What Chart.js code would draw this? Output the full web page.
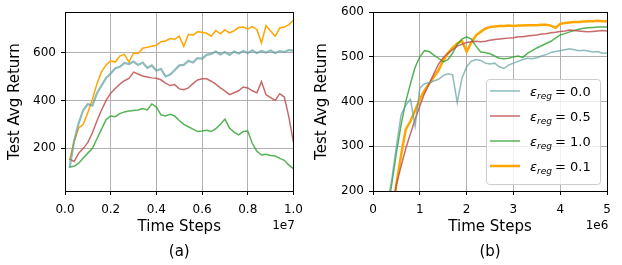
<!DOCTYPE html>
<html>
<head>
<meta charset="utf-8">
<script src="https://cdn.jsdelivr.net/npm/chart.js@4.4.0/dist/chart.umd.min.js"></script>
<style>
  html, body { margin: 0; padding: 0; background: #fff; }
  #wrap { position: relative; width: 622px; height: 265px; }
  canvas { position: absolute; top: 0; }
  #left { left: 0; }
  #right { left: 311px; }
</style>
</head>
<body>
<div id="wrap">
  <canvas id="left" width="311" height="265"></canvas>
  <canvas id="right" width="311" height="265"></canvas>
</div>
<script>
// ---- panel (a): x in units of 1e7 time steps ----
const stepsA = [0.02, 0.04, 0.06, 0.08, 0.10, 0.12, 0.14, 0.16, 0.18, 0.20,
  0.22, 0.24, 0.26, 0.28, 0.30, 0.32, 0.34, 0.36, 0.38, 0.40,
  0.42, 0.44, 0.46, 0.48, 0.50, 0.52, 0.54, 0.56, 0.58, 0.60,
  0.62, 0.64, 0.66, 0.68, 0.70, 0.72, 0.74, 0.76, 0.78, 0.80,
  0.82, 0.84, 0.86, 0.88, 0.90, 0.92, 0.94, 0.96, 0.98, 1.00];
const tealA = [118, 230, 305, 360, 385, 378, 430, 462, 494, 512,
  534, 540, 556, 552, 562, 548, 558, 536, 546, 524,
  532, 500, 508, 526, 546, 548, 565, 558, 576, 574,
  590, 594, 604, 592, 602, 590, 604, 596, 606, 598,
  608, 598, 606, 600, 608, 598, 606, 602, 610, 608];
const redA = [155, 145, 180, 200, 225, 265, 315, 360, 400, 430,
  450, 468, 482, 492, 518, 510, 502, 498, 494, 492,
  486, 472, 462, 466, 448, 445, 452, 470, 485, 490,
  490, 480, 468, 452, 440, 424, 432, 440, 456, 452,
  440, 432, 478, 424, 412, 400, 428, 414, 330, 225];
const greenA = [122, 125, 138, 160, 180, 200, 240, 280, 320, 335,
  332, 345, 352, 356, 358, 360, 366, 360, 385, 372,
  340, 335, 342, 335, 316, 300, 290, 280, 270, 272,
  275, 270, 282, 300, 322, 285, 268, 256, 270, 272,
  220, 188, 172, 175, 170, 168, 158, 150, 130, 115];
const orangeA = [150, 230, 285, 300, 350, 405, 470, 520, 548, 565,
  560, 585, 592, 560, 598, 596, 618, 622, 626, 630,
  645, 648, 658, 655, 668, 625, 676, 672, 686, 684,
  680, 668, 692, 678, 694, 682, 690, 704, 706, 698,
  708, 696, 640, 712, 690, 668, 702, 706, 716, 735];

// ---- panel (b): x in units of 1e6 time steps ----
const stepsB = [0.0, 0.1, 0.2, 0.3, 0.4, 0.5, 0.6, 0.7, 0.8, 0.9,
  1.0, 1.1, 1.2, 1.3, 1.4, 1.5, 1.6, 1.7, 1.8, 1.9,
  2.0, 2.1, 2.2, 2.3, 2.4, 2.5, 2.6, 2.7, 2.8, 2.9,
  3.0, 3.1, 3.2, 3.3, 3.4, 3.5, 3.6, 3.7, 3.8, 3.9,
  4.0, 4.1, 4.2, 4.3, 4.4, 4.5, 4.6, 4.7, 4.8, 4.9, 5.0];
const tealB = [null, null, null, 170, 225, 300, 370, 392, 405, 345,
  430, 440, 442, 446, 450, 458, 462, 460, 398, 452,
  478, 490, 494, 492, 486, 484, 486, 478, 474, 482,
  486, 490, 494, 497, 496, 498, 502, 505, 510, 512,
  514, 516, 518, 516, 514, 515, 513, 511, 512, 508, 509];
const redB = [null, null, null, null, 150, 215, 255, 295, 328, 360,
  390, 418, 440, 462, 484, 498, 508, 516, 524, 528,
  532, 534, 535, 534, 535, 537, 539, 540, 541, 542,
  543, 545, 545, 547, 548, 549, 551, 552, 554, 555,
  557, 558, 560, 559, 558, 557, 556, 557, 558, 559, 558];
const greenB = [null, null, null, 150, 215, 285, 348, 400, 440, 477,
  500, 514, 512, 504, 497, 489, 494, 508, 528, 540,
  545, 540, 524, 511, 510, 507, 502, 497, 496, 497,
  500, 502, 499, 508, 514, 520, 525, 530, 535, 542,
  549, 552, 556, 559, 562, 564, 565, 566, 567, 567, 567];
const orangeB = [null, null, null, null, 150, 215, 280, 338, 356, 380,
  405, 425, 440, 455, 470, 492, 508, 520, 530, 536,
  512, 532, 548, 556, 563, 567, 568, 569, 569, 570,
  569, 570, 570, 571, 571, 571, 572, 572, 570, 565,
  574, 576, 577, 578, 578, 579, 580, 580, 581, 580, 580];

const seriesLabels = ['0.0', '0.5', '1.0', '0.1'];
const seriesColors = ['rgba(95,158,160,0.7)', 'rgba(190,80,80,0.85)', 'rgba(44,160,44,0.8)', '#ffa500'];

Chart.defaults.font.family = '"DejaVu Sans", sans-serif';
Chart.defaults.color = '#000';

function pts(xs, ys) {
  return xs.map((x, i) => ({ x: x, y: ys[i] }));
}

function makeSets(xs, lists, widths) {
  return lists.map((ys, i) => ({
    label: seriesLabels[i],
    data: pts(xs, ys),
    borderColor: seriesColors[i],
    borderWidth: widths[i],
    pointRadius: 0,
    fill: false,
    tension: 0,
  }));
}

// top and right spines, offset text and panel caption
const framePlugin = {
  id: 'frame',
  afterDraw(chart, args, opts) {
    const { ctx, chartArea: a } = chart;
    ctx.save();
    ctx.strokeStyle = '#000';
    ctx.lineWidth = 1;
    ctx.strokeRect(Math.round(a.left) + 0.5, Math.round(a.top) + 0.5,
      Math.round(a.right - a.left), Math.round(a.bottom - a.top));
    ctx.fillStyle = '#000';
    ctx.textBaseline = 'middle';
    ctx.textAlign = 'center';
    ctx.font = '12px "DejaVu Sans"';
    ctx.fillText(opts.offset, a.right - 10, a.bottom + 35);
    ctx.font = '15px "DejaVu Sans"';
    ctx.fillText(opts.caption, (a.left + a.right) / 2, 252);
    ctx.restore();
  }
};

// matplotlib-like legend with subscript
const mathLegend = {
  id: 'mathLegend',
  afterDraw(chart, args, opts) {
    if (!opts.show) return;
    const { ctx } = chart;
    const bx = 175, by = 79, bw = 114, bh = 105;
    ctx.save();
    ctx.beginPath();
    ctx.roundRect(bx + 0.5, by + 0.5, bw, bh, 3);
    ctx.fillStyle = 'rgba(255,255,255,0.8)';
    ctx.fill();
    ctx.strokeStyle = '#cccccc';
    ctx.lineWidth = 1;
    ctx.stroke();
    chart.data.datasets.forEach((ds, i) => {
      const y = by + 12 + i * 25;
      ctx.beginPath();
      ctx.moveTo(bx + 4, y);
      ctx.lineTo(bx + 34, y);
      ctx.strokeStyle = ds.borderColor;
      ctx.lineWidth = ds.borderWidth;
      ctx.stroke();
      ctx.fillStyle = '#000';
      ctx.textBaseline = 'alphabetic';
      ctx.textAlign = 'left';
      let x = bx + 44;
      ctx.font = 'italic 13px "DejaVu Sans"';
      ctx.fillText('\u03b5', x, y + 5);
      x += ctx.measureText('\u03b5').width;
      ctx.font = 'italic 9px "DejaVu Sans"';
      ctx.fillText('reg', x, y + 8);
      x += ctx.measureText('reg').width + 3;
      ctx.font = '13px "DejaVu Sans"';
      ctx.fillText('= ' + ds.label, x, y + 5);
    });
    ctx.restore();
  }
};

function panel(id, cfg) {
  return new Chart(document.getElementById(id), {
    type: 'line',
    data: { datasets: makeSets(cfg.xs, cfg.lists, cfg.widths) },
    plugins: [framePlugin, mathLegend],
    options: {
      responsive: false,
      animation: false,
      events: [],
      layout: { padding: { left: 0, right: cfg.padRight, top: 12, bottom: 0 } },
      plugins: {
        legend: { display: false },
        tooltip: { enabled: false },
        frame: { offset: cfg.offset, caption: cfg.caption },
        mathLegend: { show: cfg.legend },
      },
      scales: {
        x: {
          type: 'linear',
          min: cfg.xMin,
          max: cfg.xMax,
          ticks: {
            stepSize: cfg.xStep,
            callback: cfg.xFmt,
            font: { size: 12 },
            padding: 8,
            maxRotation: 0,
            autoSkip: false,
          },
          grid: { color: '#b0b0b0', tickColor: '#000', tickLength: 4 },
          border: { color: '#000', width: 1 },
          title: { display: true, text: 'Time Steps', font: { size: 15 }, padding: { top: 0, bottom: 29 } },
          afterFit: (s) => { s.height = 74; },
        },
        y: {
          min: cfg.yMin,
          max: cfg.yMax,
          ticks: {
            stepSize: cfg.yStep,
            includeBounds: false,
            font: { size: 12 },
            padding: 5,
          },
          grid: { color: '#b0b0b0', tickColor: '#000', tickLength: 4 },
          border: { color: '#000', width: 1 },
          title: { display: true, text: 'Test Avg Return', font: { size: 15 }, padding: { top: cfg.yTitlePad, bottom: 0 } },
          afterFit: (s) => { s.width = cfg.yWidth; },
        },
      },
    },
  });
}

panel('left', {
  xs: stepsA,
  lists: [tealA, redA, greenA, orangeA],
  widths: [2.2, 1.5, 1.5, 1.5],
  xMin: 0, xMax: 1, xStep: 0.2,
  xFmt: (v) => v.toFixed(1),
  yMin: 22, yMax: 768, yStep: 200,
  yWidth: 65, yTitlePad: 6, padRight: 13,
  offset: '1e7', caption: '(a)', legend: false,
});

panel('right', {
  xs: stepsB,
  lists: [tealB, redB, greenB, orangeB],
  widths: [1.5, 1.5, 1.5, 2.5],
  xMin: 0, xMax: 5, xStep: 1,
  xFmt: (v) => String(v),
  yMin: 200, yMax: 600, yStep: 100,
  yWidth: 62, yTitlePad: 2, padRight: 15,
  offset: '1e6', caption: '(b)', legend: true,
});
</script>
</body>
</html>
